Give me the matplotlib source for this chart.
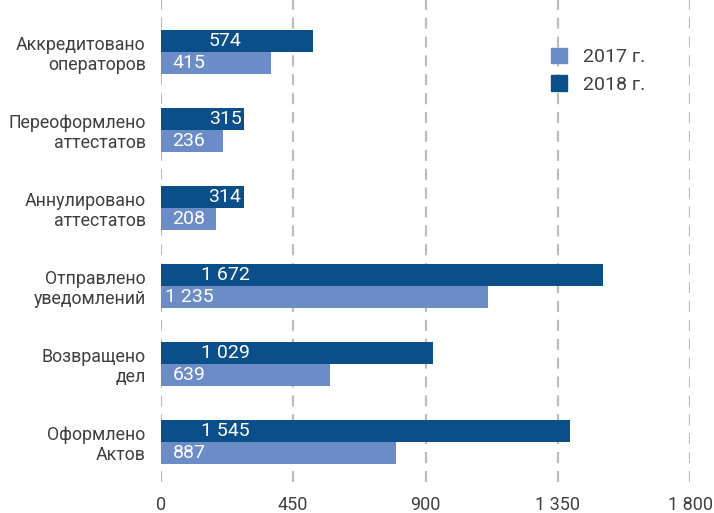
import matplotlib.pyplot as plt
from matplotlib.patches import Patch

categories = ["Аккредитовано\nоператоров", "Переоформлено\nаттестатов", "Аннулировано\nаттестатов",
              "Отправлено\nуведомлений", "Возвращено\nдел", "Оформлено\nАктов"]
values_2017 = [415, 236, 208, 1235, 639, 887]
values_2018 = [574, 315, 314, 1672, 1029, 1545]
# the original chart draws bars on a 0-2000 scale but labels its ticks 0..1800
tick_pos = [0, 500, 1000, 1500, 2000]
tick_labels = ["0", "450", "900", "1 350", "1 800"]

c2017 = "#6b8cc6"
c2018 = "#0b4f8a"
txt = "#3f3f3f"

plt.rcParams['font.family'] = ['Roboto', 'DejaVu Sans']

fig = plt.figure(figsize=(7.14, 5.13), dpi=100)
ax = fig.add_axes([161 / 714, 1 - 482 / 513, (690 - 161) / 714, 482 / 513])

h = 0.28
ys = list(range(len(categories)))
ax.barh([y - h / 2 for y in ys], values_2018, height=h, color=c2018, zorder=3)
ax.barh([y + h / 2 for y in ys], values_2017, height=h, color=c2017, zorder=3)

def fmt(v):
    return f"{v:,}".replace(",", " ")

for y, v in zip(ys, values_2018):
    ax.text(242, y - h / 2, fmt(v), color="white", ha="center", va="center", fontsize=14, zorder=4)
for y, v in zip(ys, values_2017):
    ax.text(106, y + h / 2, fmt(v), color="white", ha="center", va="center", fontsize=14, zorder=4)

ax.set_xlim(0, 2000)
ax.set_ylim(5.51, -0.667)
ax.set_xticks(tick_pos)
ax.set_xticklabels(tick_labels, color=txt, fontsize=13)
ax.set_yticks(ys)
ax.set_yticklabels(categories, color=txt, fontsize=12.8, linespacing=1.15, ha="right")
ax.tick_params(axis="both", length=0)
ax.tick_params(axis="x", pad=10)
ax.tick_params(axis="y", pad=11)

for x in tick_pos:
    ax.axvline(x, color="#bdbdbd", linewidth=1.6, linestyle=(0, (5, 3.5)), zorder=1)

for s in ax.spines.values():
    s.set_visible(False)

handles = [Patch(color=c2017, label="2017 г."), Patch(color=c2018, label="2018 г.")]
leg = ax.legend(handles=handles, loc="upper left", bbox_to_anchor=((543 - 161) / 529, 1 - 40 / 482),
                frameon=False, fontsize=14, handlelength=0.85, handleheight=0.85,
                handletextpad=0.8, labelspacing=0.45, borderaxespad=0)
for t in leg.get_texts():
    t.set_color(txt)

fig.savefig("out.png", dpi=100)
